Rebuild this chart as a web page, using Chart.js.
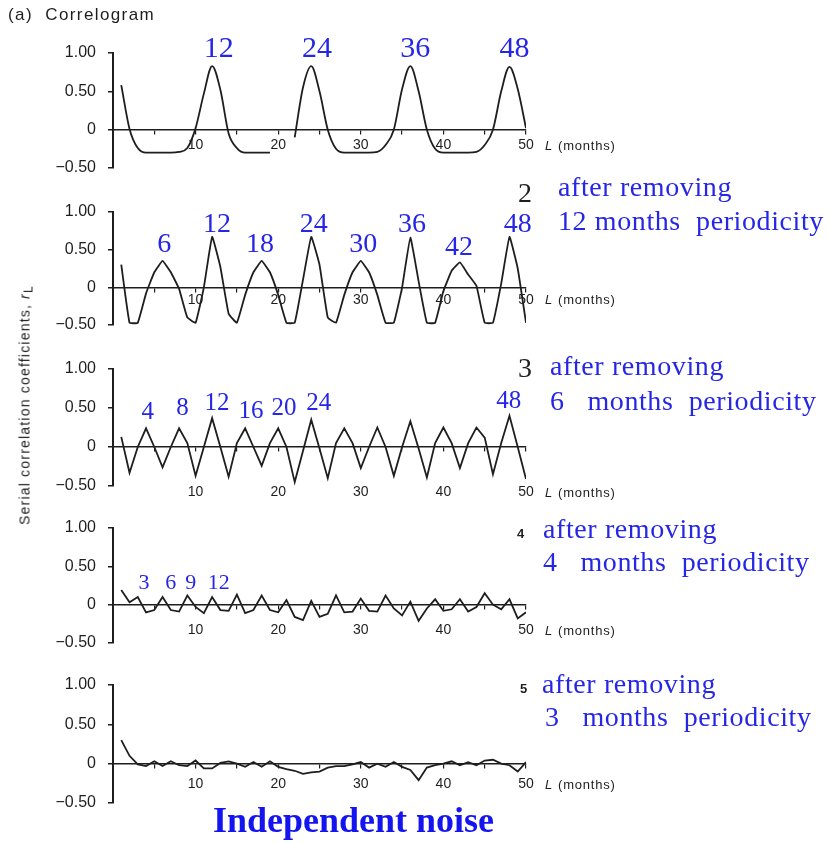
<!DOCTYPE html>
<html>
<head>
<meta charset="utf-8">
<title>Correlogram</title>
<script src="https://cdn.jsdelivr.net/npm/chart.js@4.4.1/dist/chart.umd.min.js"></script>
<style>
  html, body { margin: 0; padding: 0; background: #fff; }
  #page { position: relative; width: 830px; height: 843px; overflow: hidden; }
  #page canvas { position: absolute; left: 0; }
  .txt { position: absolute; white-space: pre; line-height: 1; }
  #ytitle { position: absolute; left: 26px; top: 405px; transform: translate(-50%, -50%) rotate(-90deg);
            white-space: pre; font: 14px "Liberation Sans", Arial, sans-serif; letter-spacing: 1.2px; color: #1e1e1e; }
  #ytitle sub { font-size: 12px; vertical-align: -3px; }
</style>
</head>
<body>
<div id="page">
  <canvas id="c1"></canvas>
  <canvas id="c2"></canvas>
  <canvas id="c3"></canvas>
  <canvas id="c4"></canvas>
  <canvas id="c5"></canvas>
  <div id="ytitle">Serial correlation coefficients, <i>r</i><sub>L</sub></div>
</div>
<script>
// lag L (months)
const lags = [1, 2, 3, 4, 5, 6, 7, 8, 9, 10,
              11, 12, 13, 14, 15, 16, 17, 18, 19, 20,
              21, 22, 23, 24, 25, 26, 27, 28, 29, 30,
              31, 32, 33, 34, 35, 36, 37, 38, 39, 40,
              41, 42, 43, 44, 45, 46, 47, 48, 49, 50];

// serial correlation r_L
const rOriginal = [0.58, 0.01, -0.24, -0.3, -0.3, -0.3, -0.3, -0.29, -0.24, 0.02,
                   0.47, 0.83, 0.52, -0.05, -0.24, -0.3, -0.3, -0.3, -0.3, null,
                   null, -0.1, 0.55, 0.83, 0.5, 0.0, -0.25, -0.3, -0.3, -0.3,
                   -0.3, -0.29, -0.2, 0.0, 0.53, 0.83, 0.5, 0.0, -0.25, -0.3,
                   -0.3, -0.3, -0.3, -0.29, -0.2, 0.0, 0.5, 0.82, 0.53, 0.02];
const rAfter12 = [0.3, -0.47, -0.47, -0.08, 0.2, 0.35, 0.2, -0.02, -0.4, -0.47,
                  0.0, 0.67, 0.27, -0.35, -0.47, -0.1, 0.2, 0.35, 0.2, -0.1,
                  -0.47, -0.47, 0.1, 0.67, 0.3, -0.4, -0.47, -0.1, 0.2, 0.35,
                  0.2, -0.1, -0.47, -0.47, 0.0, 0.66, 0.08, -0.47, -0.47, -0.05,
                  0.22, 0.33, 0.17, 0.02, -0.47, -0.47, 0.05, 0.67, 0.25, -0.47];
const rAfter6 = [0.13, -0.33, 0.0, 0.24, 0.0, -0.26, 0.0, 0.24, 0.05, -0.37,
                 0.0, 0.37, 0.0, -0.38, 0.05, 0.24, 0.0, -0.24, 0.05, 0.24,
                 0.0, -0.45, -0.05, 0.35, -0.02, -0.4, 0.05, 0.24, 0.05, -0.27,
                 0.0, 0.25, 0.0, -0.37, 0.0, 0.33, -0.02, -0.39, 0.05, 0.25,
                 0.05, -0.27, 0.05, 0.25, 0.12, -0.35, 0.05, 0.4, 0.0, -0.41];
const rAfter4 = [0.19, 0.03, 0.1, -0.1, -0.07, 0.1, -0.07, -0.09, 0.12, -0.03,
                 -0.11, 0.1, -0.07, -0.08, 0.13, -0.11, -0.07, 0.12, -0.07, -0.1,
                 0.06, -0.16, -0.2, 0.05, -0.16, -0.12, 0.12, -0.1, -0.09, 0.08,
                 -0.08, -0.09, 0.12, -0.05, -0.14, 0.04, -0.21, -0.05, 0.07, -0.08,
                 -0.06, 0.07, -0.09, -0.03, 0.15, 0.0, -0.06, 0.07, -0.18, -0.1];
const rAfter3 = [0.3, 0.1, -0.01, -0.03, 0.03, -0.03, 0.03, -0.02, -0.03, 0.04,
                 -0.06, -0.06, 0.01, 0.03, 0.0, -0.04, 0.02, -0.04, 0.03, -0.04,
                 -0.07, -0.09, -0.13, -0.11, -0.1, -0.05, -0.03, -0.03, -0.01, 0.02,
                 -0.05, 0.0, -0.04, 0.02, -0.04, -0.08, -0.21, -0.05, -0.02, 0.0,
                 0.03, -0.02, 0.02, -0.02, 0.04, 0.05, 0.0, -0.02, -0.1, 0.02];

const yTickValues = [-0.5, 0, 0.5, 1];
const yTickLabels = ['\u22120.50', '0', '0.50', '1.00'];

// peak tags written over the curves
const peakTags1 = ['12', '24', '36', '48'];
const peakTags2 = ['6', '12', '18', '24', '30', '36', '42', '48'];
const peakTags3 = ['4', '8', '12', '16', '20', '24', '48'];
const peakTags4 = ['3', '6', '9', '12'];

// where each tag sits: [lag at its centre, r at its baseline]
const tagSpots1 = [[12.8, 0.95], [24.7, 0.95], [36.6, 0.95], [48.6, 0.95]];
const tagSpots2 = [[6.2, 0.47], [12.6, 0.73], [17.8, 0.47], [24.3, 0.73],
                   [30.3, 0.47], [36.2, 0.73], [41.9, 0.43], [49.0, 0.73]];
const tagSpots3 = [[4.2, 0.36], [8.4, 0.41], [12.6, 0.47], [16.7, 0.37],
                   [20.7, 0.41], [24.9, 0.47], [47.9, 0.5]];
const tagSpots4 = [[3.75, 0.2], [7.0, 0.2], [9.4, 0.2], [12.8, 0.2]];

const SANS = '"Liberation Sans", Arial, Helvetica, sans-serif';
const SERIF = '"Liberation Serif", "Times New Roman", serif';
const INK = '#1e1e1e';
const BLUE = '#2626e6';
const PAD_TOP = 45, PAD_BOTTOM = 22;

const panels = [
  {id: 'c1', series: rOriginal, top: 53, bottom: 168, drop: 20, tags: peakTags1, spots: tagSpots1, tagSize: 30, mode: 'monotone', tension: 0},
  {id: 'c2', series: rAfter12, top: 212, bottom: 325, drop: 17, tags: peakTags2, spots: tagSpots2, tagSize: 28, mode: 'default', tension: 0.1},
  {id: 'c3', series: rAfter6, top: 369, bottom: 486, drop: 50, tags: peakTags3, spots: tagSpots3, tagSize: 25, mode: 'default', tension: 0},
  {id: 'c4', series: rAfter4, top: 528, bottom: 643, drop: 30, tags: peakTags4, spots: tagSpots4, tagSize: 22, mode: 'default', tension: 0},
  {id: 'c5', series: rAfter3, top: 685, bottom: 803, drop: 25, tags: [], spots: [], tagSize: 22, mode: 'default', tension: 0}
];

// blue peak tags and the "L (months)" caption
const decor = {
  id: 'decor',
  afterDraw(chart, args, o) {
    const {ctx} = chart;
    const x = chart.scales.x, y = chart.scales.y;
    ctx.save();
    ctx.fillStyle = BLUE;
    ctx.font = o.tagSize + 'px ' + SERIF;
    ctx.textAlign = 'center';
    ctx.textBaseline = 'alphabetic';
    o.tags.forEach((t, i) => {
      ctx.fillText(t, x.getPixelForValue(o.spots[i][0]), y.getPixelForValue(o.spots[i][1]));
    });
    const base = y.getPixelForValue(0) + o.drop;
    ctx.fillStyle = INK;
    ctx.textAlign = 'left';
    ctx.letterSpacing = '0.8px';
    let cx = x.right + 19;
    ctx.font = 'italic 13px ' + SANS;
    ctx.fillText('L', cx, base);
    cx += ctx.measureText('L').width + 5;
    ctx.font = '13px ' + SANS;
    ctx.fillText('(months)', cx, base);
    ctx.restore();
  }
};

panels.forEach(p => {
  const canvas = document.getElementById(p.id);
  canvas.width = 830;
  canvas.height = PAD_TOP + (p.bottom - p.top) + PAD_BOTTOM;
  canvas.style.top = (p.top - PAD_TOP) + 'px';
  new Chart(canvas, {
    type: 'line',
    data: {
      datasets: [{
        data: lags.map((L, i) => ({x: L, y: p.series[i]})),
        borderColor: INK,
        borderWidth: 1.8,
        pointRadius: 0,
        fill: false,
        tension: p.tension,
        cubicInterpolationMode: p.mode,
        spanGaps: false
      }]
    },
    options: {
      responsive: false,
      animation: false,
      events: [],
      layout: {padding: {top: PAD_TOP, bottom: PAD_BOTTOM, left: 0, right: 304}},
      plugins: {
        legend: {display: false},
        tooltip: {enabled: false},
        decor: {tags: p.tags, spots: p.spots, tagSize: p.tagSize, drop: p.drop}
      },
      scales: {
        x: {
          type: 'linear', min: 0, max: 50,
          position: {y: 0},
          border: {color: INK, width: 1.5},
          grid: {drawOnChartArea: false, color: INK, lineWidth: 1.2, tickLength: 4},
          ticks: {
            stepSize: 5, autoSkip: false, maxRotation: 0,
            padding: p.drop - 17, color: INK,
            font: {family: SANS, size: 14},
            callback: v => (v > 0 && v % 10 === 0) ? String(v) : ''
          }
        },
        y: {
          min: -0.5, max: 1, position: 'left',
          border: {color: INK, width: 2},
          grid: {drawOnChartArea: false, color: INK, lineWidth: 1.5, tickLength: 5},
          ticks: {
            stepSize: 0.5, padding: 12, color: INK,
            font: {family: SANS, size: 16},
            callback: v => {
              const k = yTickValues.indexOf(v);
              return k >= 0 ? yTickLabels[k] : '';
            }
          },
          afterFit(scale) { scale.width = 113; }
        }
      }
    },
    plugins: [decor]
  });
});

// text around the panels
const page = document.getElementById('page');
function put(html, x, base, size, family, color, extra) {
  const el = document.createElement('div');
  el.className = 'txt';
  el.innerHTML = html;
  const asc = family === SERIF ? 0.8375 : 0.8465;
  el.style.cssText = 'left:' + x + 'px;top:' + (base - asc * size).toFixed(1) + 'px;font-size:' + size +
    'px;font-family:' + family + ';color:' + color + ';' + (extra || '');
  page.appendChild(el);
}
const LS = 'letter-spacing:0.6px';
put('(a)  Correlogram', 8, 20, 17, SANS, INK, 'letter-spacing:1.4px');
put('2', 518, 202, 28, SERIF, INK);
put('after removing', 558, 196, 28, SERIF, BLUE, LS);
put('12 months  periodicity', 558, 230, 28, SERIF, BLUE, LS);
put('3', 518, 377, 28, SERIF, INK);
put('after removing', 550, 375, 28, SERIF, BLUE, LS);
put('6   months  periodicity', 550, 410, 28, SERIF, BLUE, LS);
put('4', 517, 538, 13, SANS, INK, 'font-weight:bold');
put('after removing', 543, 538, 28, SERIF, BLUE, LS);
put('4   months  periodicity', 543, 571, 28, SERIF, BLUE, LS);
put('5', 520, 693, 13, SANS, INK, 'font-weight:bold');
put('after removing', 542, 693, 28, SERIF, BLUE, LS);
put('3   months  periodicity', 545, 726, 28, SERIF, BLUE, LS);
put('Independent noise', 213, 832, 36, SERIF, '#1414f0', 'font-weight:bold');
</script>
</body>
</html>
